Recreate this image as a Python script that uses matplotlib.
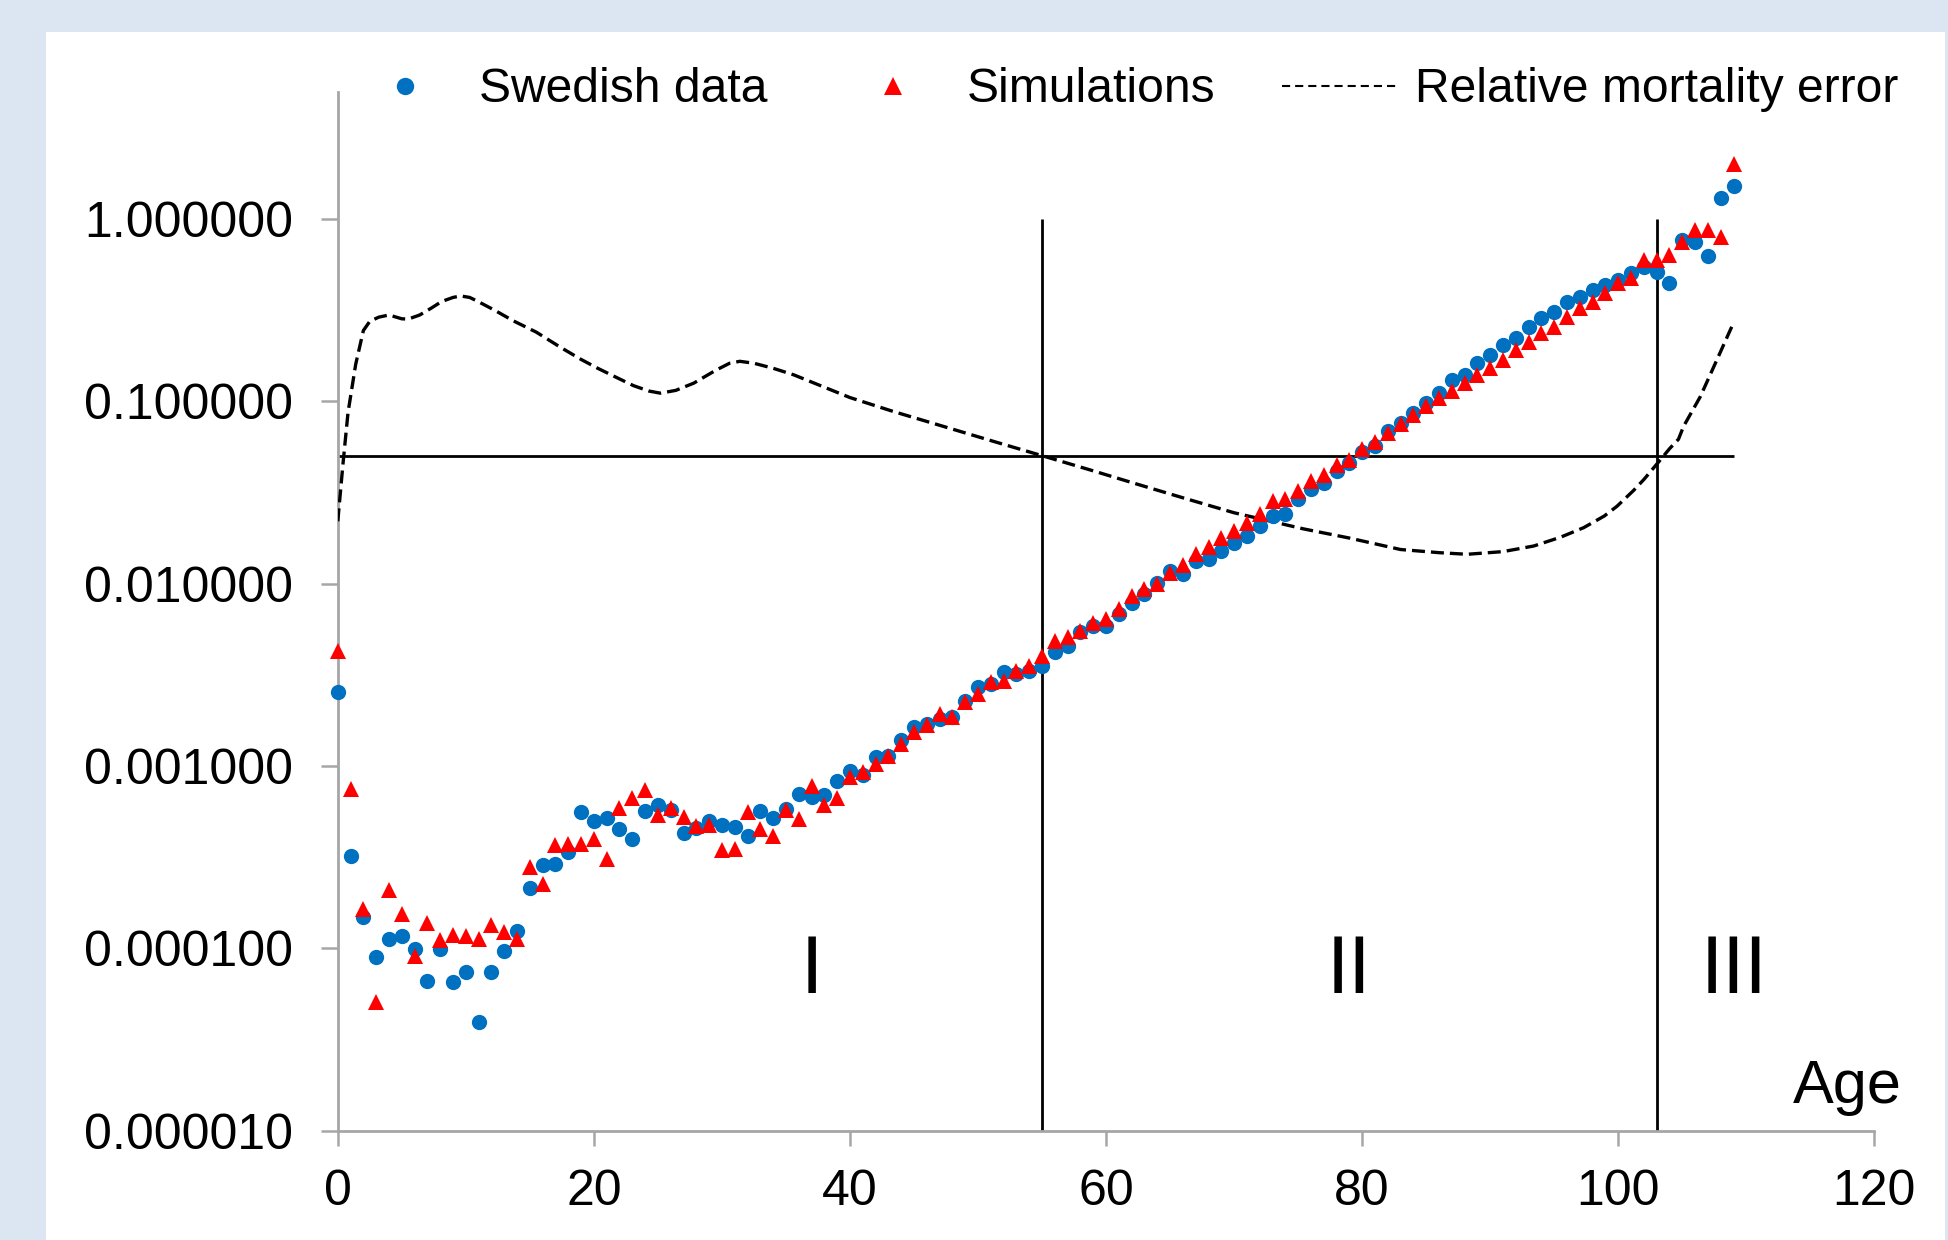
import matplotlib
matplotlib.use("Agg")
import matplotlib.pyplot as plt
from matplotlib.lines import Line2D
from matplotlib.patches import Rectangle
from matplotlib.ticker import NullLocator

plt.rcParams['font.family'] = ['Liberation Sans', 'DejaVu Sans']

# ages 0..109
ages = list(range(110))

swedish = [
    0.00255, 0.000321, 0.000149, 8.98e-5, 0.000113, 0.000116, 9.85e-5, 6.6e-5, 9.85e-5, 6.55e-5,
    7.4e-5, 3.96e-5, 7.4e-5, 9.6e-5, 0.000125, 0.000214, 0.000285, 0.000289, 0.000337, 0.000558,
    0.000502, 0.00052, 0.000453, 0.000396, 0.000565, 0.000607, 0.00057, 0.000428, 0.000458, 0.000502,
    0.000476, 0.000462, 0.000413, 0.000565, 0.000518, 0.000582, 0.000704, 0.000675, 0.000689, 0.000832,
    0.000933, 0.000887, 0.00112, 0.00114, 0.00138, 0.00163, 0.0017, 0.00181, 0.00185, 0.00228,
    0.0027, 0.00281, 0.00326, 0.00319, 0.00333, 0.00355, 0.0042, 0.00456, 0.0054, 0.00587,
    0.00587, 0.0068, 0.00788, 0.00875, 0.0101, 0.0117, 0.0113, 0.0133, 0.0136, 0.0151,
    0.0168, 0.0182, 0.0207, 0.0235, 0.024, 0.029, 0.0329, 0.0357, 0.0414, 0.046,
    0.053, 0.0568, 0.0685, 0.0762, 0.0864, 0.098, 0.111, 0.131, 0.14, 0.162,
    0.18, 0.204, 0.222, 0.257, 0.286, 0.311, 0.353, 0.376, 0.409, 0.435,
    0.464, 0.505, 0.548, 0.515, 0.445, 0.767, 0.752, 0.628, 1.31, 1.52,
]

simulations = [
    0.00428, 0.00075, 0.000165, 5.1e-5, 0.000208, 0.000155, 9.05e-5, 0.000137, 0.000111, 0.000118,
    0.000116, 0.000113, 0.000134, 0.000123, 0.000113, 0.000279, 0.000226, 0.00037, 0.000375, 0.000375,
    0.000395, 0.00031, 0.000587, 0.000667, 0.00074, 0.000535, 0.000587, 0.000525, 0.000466, 0.000472,
    0.000347, 0.000349, 0.000562, 0.000453, 0.000411, 0.00057, 0.000513, 0.000775, 0.000607, 0.000667,
    0.000868, 0.000925, 0.00103, 0.00114, 0.00132, 0.00153, 0.00168, 0.00193, 0.00185, 0.00223,
    0.00248, 0.00288, 0.00294, 0.00333, 0.00355, 0.00402, 0.00486, 0.00507, 0.00551, 0.00612,
    0.00638, 0.00724, 0.00857, 0.00932, 0.00993, 0.0115, 0.0127, 0.0145, 0.0158, 0.0179,
    0.0194, 0.0216, 0.024, 0.0284, 0.029, 0.0322, 0.0365, 0.0397, 0.045, 0.048,
    0.0547, 0.0598, 0.067, 0.075, 0.0846, 0.0939, 0.104, 0.1135, 0.126, 0.14,
    0.152, 0.169, 0.192, 0.213, 0.237, 0.257, 0.292, 0.324, 0.353, 0.392,
    0.445, 0.473, 0.597, 0.597, 0.635, 0.752, 0.871, 0.871, 0.80, 2.02,
]

# relative mortality error curve
err_age = [0, 0.4, 0.8, 1.4, 2.0, 2.5, 3.2, 4.0, 5.0, 5.5, 6.4, 7.3, 8.1, 9.0, 9.6, 10.3, 10.9,
           12.3, 13.7, 15.5, 17.4, 19.0, 20.3, 21.8, 23.1, 24.3, 25.2, 26.4, 27.8, 29.5, 30.6,
           31.4, 32.5, 34.0, 35.6, 40.0, 43.4, 47.0, 51.2, 55.0, 59.0, 62.0, 66.0, 70.0, 75.4,
           79.0, 83.0, 86.0, 88.2, 91.0, 93.4, 95.5, 97.3, 98.9, 99.9, 101.2, 102.0, 103.2,
           104.0, 104.7, 105.1, 106.4, 107.7, 109.0]
err_val = [0.022, 0.045, 0.087, 0.16, 0.245, 0.275, 0.29, 0.298, 0.284, 0.283, 0.298, 0.325, 0.353,
           0.372, 0.379, 0.372, 0.355, 0.315, 0.277, 0.24, 0.198, 0.17, 0.152, 0.135, 0.122, 0.114,
           0.111, 0.115, 0.126, 0.148, 0.162, 0.166, 0.162, 0.152, 0.14, 0.105, 0.088, 0.074,
           0.0604, 0.0504, 0.0416, 0.0359, 0.0296, 0.0245, 0.020, 0.0178, 0.0154, 0.0148, 0.0145,
           0.015, 0.0161, 0.018, 0.0203, 0.0235, 0.0266, 0.0325, 0.0373, 0.047, 0.055, 0.062,
           0.073, 0.106, 0.169, 0.27]

threshold = 0.05
region_bounds = [55, 103]
region_labels = ['I', 'II', 'III']
region_label_ages = [37, 79, 109]

yticks = [1e-5, 1e-4, 1e-3, 1e-2, 1e-1, 1]
ytick_labels = ['0.000010', '0.000100', '0.001000', '0.010000', '0.100000', '1.000000']
xticks = [0, 20, 40, 60, 80, 100, 120]

blue = '#0070C0'
red = '#FF0000'
grey = '#A6A6A6'

fig = plt.figure(figsize=(19.48, 12.4), dpi=100)
fig.patch.set_facecolor('#DCE6F2')
fig.add_artist(Rectangle((46 / 1948, 0), (1945 - 46) / 1948, 1 - 32 / 1240,
                         transform=fig.transFigure, facecolor='white', edgecolor='none', zorder=-1))

ax = fig.add_axes([0.1734, 0.0883, 0.7888, 0.8377])
ax.set_facecolor('white')
ax.set_yscale('log')
ax.set_xlim(0, 120)
ax.set_ylim(1e-5, 5)

# reference lines
ax.vlines(region_bounds, 1e-5, 1, color='black', lw=2.0, zorder=2)
ax.hlines(threshold, 0, 109, color='black', lw=2.0, zorder=2)

ax.plot(err_age, err_val, color='black', lw=2.4, linestyle=(0, (3.9, 1.8)), zorder=3)
ax.plot(ages, swedish, 'o', color=blue, ms=11, mew=0, zorder=4, clip_on=False)
ax.plot(ages, simulations, '^', color=red, ms=12, mew=0, zorder=5, clip_on=False)

for lab, a in zip(region_labels, region_label_ages):
    ax.text(a, 7.4e-5, lab, fontsize=58, ha='center', va='center')

ax.text(117.9, 1.41e-5, 'Age', fontsize=44, ha='center', va='baseline')

ax.set_yticks(yticks)
ax.set_yticklabels(ytick_labels)
ax.yaxis.set_minor_locator(NullLocator())
ax.set_xticks(xticks)

for s in ['top', 'right']:
    ax.spines[s].set_visible(False)
for s in ['left', 'bottom']:
    ax.spines[s].set_color(grey)
    ax.spines[s].set_linewidth(2.0)

ax.tick_params(axis='y', direction='out', length=12, width=1.8, color=grey, labelsize=36, pad=20)
ax.tick_params(axis='x', direction='out', length=10.5, width=1.8, color=grey, labelsize=36, pad=17)

handles = [
    Line2D([], [], marker='o', ls='none', color=blue, ms=12.5, mew=0),
    Line2D([], [], marker='^', ls='none', color=red, ms=12.5, mew=0),
    Line2D([], [], color='black', lw=1.5, linestyle=(0, (3.9, 2.4))),
]
fig.legend(handles, ['Swedish data', 'Simulations', 'Relative mortality error'],
           loc='center left', bbox_to_anchor=(346 / 1948, 1 - 90 / 1240),
           ncol=3, frameon=False, fontsize=34.6, handlelength=2.45, handletextpad=0.32,
           columnspacing=1.38, borderpad=0, borderaxespad=0)

fig.savefig('out.png', dpi=100, facecolor=fig.get_facecolor())
